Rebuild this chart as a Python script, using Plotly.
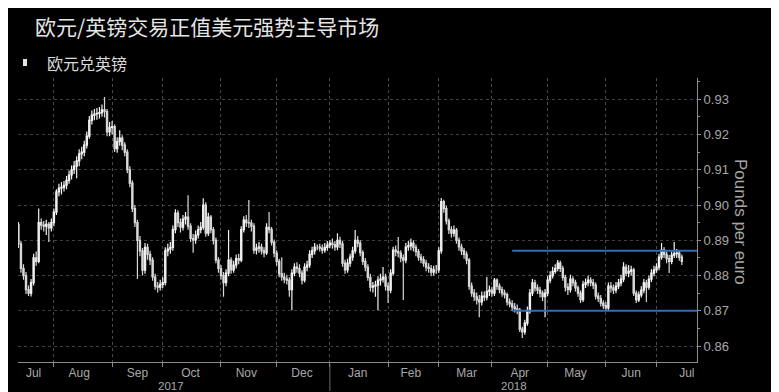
import pandas as pd
import plotly.graph_objects as go

# ---------------- data (EUR/GBP daily) ----------------
start_day = "2017-07-12"

opens = [
    0.8945, 0.8890, 0.8820,
    0.8800, 0.8760, 0.8750, 0.8780, 0.8850,
    0.8840, 0.8950, 0.8943, 0.8940, 0.8945,
    0.8935, 0.8950, 0.8980, 0.9037, 0.9048,
    0.9050, 0.9056, 0.9070, 0.9085, 0.9100,
    0.9110, 0.9125, 0.9145, 0.9150, 0.9170,
    0.9195, 0.9240, 0.9255, 0.9258, 0.9260,
    0.9262, 0.9270, 0.9265, 0.9207, 0.9220,
    0.9222, 0.9160, 0.9180, 0.9190, 0.9170,
    0.9150, 0.9100, 0.9062, 0.8990, 0.8950,
    0.8900, 0.8870, 0.8815, 0.8880, 0.8860,
    0.8844, 0.8796, 0.8770, 0.8767, 0.8775,
    0.8780, 0.8870, 0.8875, 0.8880, 0.8930,
    0.8977, 0.8950, 0.8937, 0.8960, 0.8966,
    0.8940, 0.8905, 0.8901, 0.8915, 0.8930,
    0.8937, 0.9000, 0.8920, 0.8966, 0.8930,
    0.8900, 0.8844, 0.8820, 0.8800, 0.8780,
    0.8807, 0.8844, 0.8816, 0.8830, 0.8848,
    0.8844, 0.8930, 0.8957, 0.8950, 0.8949,
    0.8940, 0.8872, 0.8878, 0.8881, 0.8870,
    0.8864, 0.8937, 0.8930, 0.8895, 0.8864,
    0.8840, 0.8805, 0.8796, 0.8790, 0.8787,
    0.8760, 0.8807, 0.8824, 0.8820, 0.8807,
    0.8787, 0.8824, 0.8830, 0.8860, 0.8870,
    0.8881, 0.8881, 0.8878, 0.8872, 0.8880,
    0.8886, 0.8892, 0.8888, 0.8881, 0.8900,
    0.8890, 0.8835, 0.8816, 0.8835, 0.8852,
    0.8870, 0.8900, 0.8892, 0.8865, 0.8840,
    0.8824, 0.8795, 0.8767, 0.8770, 0.8773,
    0.8787, 0.8790, 0.8796, 0.8770, 0.8759,
    0.8807, 0.8872, 0.8868, 0.8864, 0.8850,
    0.8844, 0.8881, 0.8885, 0.8892, 0.8880,
    0.8868, 0.8852, 0.8845, 0.8835, 0.8824,
    0.8820, 0.8810, 0.8816, 0.8816, 0.8870,
    0.9010, 0.8990, 0.8955, 0.8930, 0.8920,
    0.8929, 0.8900, 0.8881, 0.8870, 0.8860,
    0.8844, 0.8770, 0.8750, 0.8740, 0.8731,
    0.8725, 0.8742, 0.8739, 0.8755, 0.8759,
    0.8750, 0.8787, 0.8770, 0.8760, 0.8750,
    0.8746, 0.8725, 0.8720, 0.8711, 0.8706,
    0.8702, 0.8648, 0.8640, 0.8665, 0.8700,
    0.8750, 0.8779, 0.8765, 0.8759, 0.8750,
    0.8740, 0.8750, 0.8787, 0.8800, 0.8812,
    0.8820, 0.8835, 0.8820, 0.8795, 0.8767,
    0.8760, 0.8790, 0.8780, 0.8765, 0.8750,
    0.8732, 0.8775, 0.8780, 0.8787, 0.8780,
    0.8773, 0.8742, 0.8735, 0.8722, 0.8715,
    0.8708, 0.8770, 0.8765, 0.8759, 0.8770,
    0.8779, 0.8790, 0.8824, 0.8807, 0.8812,
    0.8816, 0.8750, 0.8731, 0.8745, 0.8759,
    0.8779, 0.8767, 0.8790, 0.8807, 0.8816,
    0.8824, 0.8852, 0.8872, 0.8860, 0.8848,
    0.8840, 0.8858, 0.8862, 0.8864, 0.8852,
]

highs = [
    0.8952, 0.8898, 0.8832,
    0.8810, 0.8772, 0.8790, 0.8862, 0.8868,
    0.8990, 0.8962, 0.8955, 0.8958, 0.8952,
    0.8962, 0.8990, 0.9045, 0.9060, 0.9065,
    0.9068, 0.9082, 0.9098, 0.9112, 0.9125,
    0.9138, 0.9158, 0.9165, 0.9182, 0.9208,
    0.9252, 0.9268, 0.9272, 0.9275, 0.9278,
    0.9285, 0.9306, 0.9272, 0.9235, 0.9238,
    0.9228, 0.9192, 0.9212, 0.9198, 0.9178,
    0.9158, 0.9110, 0.9070, 0.9000, 0.8958,
    0.8912, 0.8878, 0.8892, 0.8890, 0.8870,
    0.8852, 0.8805, 0.8782, 0.8788, 0.8795,
    0.8880, 0.8890, 0.8895, 0.8942, 0.8988,
    0.8985, 0.8962, 0.8972, 0.8980, 0.9028,
    0.8948, 0.8918, 0.8928, 0.8942, 0.8952,
    0.9019, 0.9008, 0.8978, 0.8972, 0.8938,
    0.8908, 0.8852, 0.8830, 0.8810, 0.8818,
    0.8929, 0.8852, 0.8842, 0.8860, 0.8862,
    0.8940, 0.8968, 0.8972, 0.9014, 0.8958,
    0.8948, 0.8890, 0.8895, 0.8890, 0.8880,
    0.8948, 0.8980, 0.8938, 0.8902, 0.8872,
    0.8848, 0.8852, 0.8808, 0.8802, 0.8795,
    0.8818, 0.8835, 0.8838, 0.8832, 0.8815,
    0.8835, 0.8842, 0.8872, 0.8882, 0.8892,
    0.8888, 0.8890, 0.8888, 0.8892, 0.8898,
    0.8900, 0.8905, 0.8898, 0.8920, 0.8910,
    0.8898, 0.8845, 0.8848, 0.8862, 0.8882,
    0.8929, 0.8912, 0.8900, 0.8872, 0.8850,
    0.8832, 0.8805, 0.8782, 0.8785, 0.8798,
    0.8805, 0.8824, 0.8805, 0.8780, 0.8818,
    0.8882, 0.8885, 0.8909, 0.8872, 0.8860,
    0.8892, 0.8898, 0.8905, 0.8900, 0.8888,
    0.8875, 0.8862, 0.8855, 0.8845, 0.8835,
    0.8830, 0.8828, 0.8830, 0.8880, 0.9020,
    0.9015, 0.8998, 0.8962, 0.8940, 0.8942,
    0.8935, 0.8908, 0.8890, 0.8878, 0.8868,
    0.8850, 0.8780, 0.8762, 0.8752, 0.8745,
    0.8755, 0.8755, 0.8796, 0.8772, 0.8768,
    0.8793, 0.8792, 0.8778, 0.8768, 0.8760,
    0.8752, 0.8735, 0.8730, 0.8722, 0.8718,
    0.8708, 0.8655, 0.8675, 0.8712, 0.8762,
    0.8790, 0.8788, 0.8775, 0.8768, 0.8758,
    0.8762, 0.8798, 0.8812, 0.8825, 0.8832,
    0.8844, 0.8842, 0.8828, 0.8802, 0.8778,
    0.8802, 0.8798, 0.8788, 0.8772, 0.8758,
    0.8785, 0.8792, 0.8800, 0.8795, 0.8790,
    0.8780, 0.8752, 0.8745, 0.8730, 0.8725,
    0.8780, 0.8782, 0.8775, 0.8782, 0.8790,
    0.8802, 0.8838, 0.8832, 0.8830, 0.8828,
    0.8822, 0.8758, 0.8755, 0.8770, 0.8790,
    0.8788, 0.8800, 0.8818, 0.8828, 0.8835,
    0.8862, 0.8892, 0.8880, 0.8868, 0.8858,
    0.8868, 0.8895, 0.8875, 0.8872, 0.8860,
]

lows = [
    0.8878, 0.8808, 0.8788,
    0.8748, 0.8742, 0.8741, 0.8772, 0.8828,
    0.8835, 0.8930, 0.8925, 0.8915, 0.8895,
    0.8925, 0.8940, 0.8972, 0.9025, 0.9030,
    0.9038, 0.9045, 0.9060, 0.9072, 0.9088,
    0.9076, 0.9110, 0.9130, 0.9138, 0.9160,
    0.9188, 0.9228, 0.9240, 0.9242, 0.9245,
    0.9250, 0.9248, 0.9195, 0.9195, 0.9200,
    0.9150, 0.9148, 0.9168, 0.9155, 0.9138,
    0.9090, 0.9050, 0.8980, 0.8938, 0.8790,
    0.8855, 0.8800, 0.8805, 0.8845, 0.8830,
    0.8785, 0.8760, 0.8752, 0.8758, 0.8765,
    0.8772, 0.8855, 0.8862, 0.8870, 0.8920,
    0.8938, 0.8922, 0.8928, 0.8945, 0.8930,
    0.8895, 0.8865, 0.8890, 0.8905, 0.8920,
    0.8930, 0.8910, 0.8912, 0.8920, 0.8888,
    0.8835, 0.8808, 0.8788, 0.8740, 0.8770,
    0.8798, 0.8805, 0.8808, 0.8820, 0.8832,
    0.8838, 0.8922, 0.8938, 0.8935, 0.8925,
    0.8862, 0.8860, 0.8865, 0.8860, 0.8852,
    0.8858, 0.8920, 0.8885, 0.8852, 0.8828,
    0.8795, 0.8785, 0.8778, 0.8775, 0.8740,
    0.8702, 0.8798, 0.8808, 0.8795, 0.8775,
    0.8780, 0.8812, 0.8822, 0.8850, 0.8860,
    0.8872, 0.8868, 0.8862, 0.8865, 0.8870,
    0.8878, 0.8876, 0.8870, 0.8872, 0.8878,
    0.8825, 0.8805, 0.8808, 0.8825, 0.8842,
    0.8862, 0.8880, 0.8855, 0.8830, 0.8812,
    0.8785, 0.8755, 0.8752, 0.8740, 0.8702,
    0.8772, 0.8780, 0.8758, 0.8722, 0.8750,
    0.8800, 0.8855, 0.8852, 0.8838, 0.8731,
    0.8835, 0.8870, 0.8872, 0.8868, 0.8855,
    0.8842, 0.8835, 0.8825, 0.8812, 0.8808,
    0.8798, 0.8800, 0.8805, 0.8808, 0.8862,
    0.8978, 0.8945, 0.8918, 0.8908, 0.8910,
    0.8890, 0.8870, 0.8858, 0.8848, 0.8832,
    0.8760, 0.8740, 0.8728, 0.8718, 0.8682,
    0.8715, 0.8728, 0.8730, 0.8742, 0.8740,
    0.8742, 0.8760, 0.8750, 0.8740, 0.8735,
    0.8715, 0.8710, 0.8700, 0.8695, 0.8690,
    0.8640, 0.8623, 0.8632, 0.8658, 0.8692,
    0.8742, 0.8755, 0.8748, 0.8738, 0.8728,
    0.8682, 0.8742, 0.8778, 0.8792, 0.8805,
    0.8812, 0.8810, 0.8785, 0.8755, 0.8745,
    0.8752, 0.8770, 0.8755, 0.8740, 0.8722,
    0.8725, 0.8765, 0.8770, 0.8770, 0.8762,
    0.8732, 0.8725, 0.8712, 0.8705, 0.8700,
    0.8702, 0.8752, 0.8748, 0.8750, 0.8762,
    0.8770, 0.8782, 0.8798, 0.8795, 0.8800,
    0.8742, 0.8722, 0.8725, 0.8738, 0.8750,
    0.8725, 0.8760, 0.8782, 0.8798, 0.8808,
    0.8815, 0.8845, 0.8850, 0.8835, 0.8807,
    0.8832, 0.8850, 0.8850, 0.8842, 0.8830,
]

closes = [
    0.8890, 0.8820, 0.8800,
    0.8760, 0.8750, 0.8780, 0.8850, 0.8840,
    0.8950, 0.8943, 0.8940, 0.8945, 0.8935,
    0.8950, 0.8980, 0.9037, 0.9048, 0.9050,
    0.9056, 0.9070, 0.9085, 0.9100, 0.9110,
    0.9125, 0.9145, 0.9150, 0.9170, 0.9195,
    0.9240, 0.9255, 0.9258, 0.9260, 0.9262,
    0.9270, 0.9265, 0.9207, 0.9220, 0.9222,
    0.9160, 0.9180, 0.9190, 0.9170, 0.9150,
    0.9100, 0.9062, 0.8990, 0.8950, 0.8900,
    0.8870, 0.8815, 0.8880, 0.8860, 0.8844,
    0.8796, 0.8770, 0.8767, 0.8775, 0.8780,
    0.8870, 0.8875, 0.8880, 0.8930, 0.8977,
    0.8950, 0.8937, 0.8960, 0.8966, 0.8940,
    0.8905, 0.8901, 0.8915, 0.8930, 0.8937,
    0.9000, 0.8920, 0.8966, 0.8930, 0.8900,
    0.8844, 0.8820, 0.8800, 0.8780, 0.8807,
    0.8844, 0.8816, 0.8830, 0.8848, 0.8844,
    0.8930, 0.8957, 0.8950, 0.8949, 0.8940,
    0.8872, 0.8878, 0.8881, 0.8870, 0.8864,
    0.8937, 0.8930, 0.8895, 0.8864, 0.8840,
    0.8805, 0.8796, 0.8790, 0.8787, 0.8760,
    0.8807, 0.8824, 0.8820, 0.8807, 0.8787,
    0.8824, 0.8830, 0.8860, 0.8870, 0.8881,
    0.8881, 0.8878, 0.8872, 0.8880, 0.8886,
    0.8892, 0.8888, 0.8881, 0.8900, 0.8890,
    0.8835, 0.8816, 0.8835, 0.8852, 0.8870,
    0.8900, 0.8892, 0.8865, 0.8840, 0.8824,
    0.8795, 0.8767, 0.8770, 0.8773, 0.8787,
    0.8790, 0.8796, 0.8770, 0.8759, 0.8807,
    0.8872, 0.8868, 0.8864, 0.8850, 0.8844,
    0.8881, 0.8885, 0.8892, 0.8880, 0.8868,
    0.8852, 0.8845, 0.8835, 0.8824, 0.8820,
    0.8810, 0.8816, 0.8816, 0.8870, 0.9010,
    0.8990, 0.8955, 0.8930, 0.8920, 0.8929,
    0.8900, 0.8881, 0.8870, 0.8860, 0.8844,
    0.8770, 0.8750, 0.8740, 0.8731, 0.8725,
    0.8742, 0.8739, 0.8755, 0.8759, 0.8750,
    0.8787, 0.8770, 0.8760, 0.8750, 0.8746,
    0.8725, 0.8720, 0.8711, 0.8706, 0.8702,
    0.8648, 0.8640, 0.8665, 0.8700, 0.8750,
    0.8779, 0.8765, 0.8759, 0.8750, 0.8740,
    0.8750, 0.8787, 0.8800, 0.8812, 0.8820,
    0.8835, 0.8820, 0.8795, 0.8767, 0.8760,
    0.8790, 0.8780, 0.8765, 0.8750, 0.8732,
    0.8775, 0.8780, 0.8787, 0.8780, 0.8773,
    0.8742, 0.8735, 0.8722, 0.8715, 0.8708,
    0.8770, 0.8765, 0.8759, 0.8770, 0.8779,
    0.8790, 0.8824, 0.8807, 0.8812, 0.8816,
    0.8750, 0.8731, 0.8745, 0.8759, 0.8779,
    0.8767, 0.8790, 0.8807, 0.8816, 0.8824,
    0.8852, 0.8872, 0.8860, 0.8848, 0.8840,
    0.8858, 0.8862, 0.8864, 0.8852, 0.8840,
]

# range-trading band (blue lines)
band_dates = ["2018-04-11", "2018-07-23"]
band_upper = [0.887, 0.887]
band_lower = [0.870, 0.870]

# axis labels
month_tick_dates = ["2017-07-20", "2017-08-15", "2017-09-15", "2017-10-16",
                    "2017-11-15", "2017-12-15", "2018-01-16", "2018-02-14",
                    "2018-03-16", "2018-04-16", "2018-05-16", "2018-06-15",
                    "2018-07-17"]
month_tick_labels = ["Jul", "Aug", "Sep", "Oct", "Nov", "Dec", "Jan", "Feb",
                     "Mar", "Apr", "May", "Jun", "Jul"]
year_labels = ["2017", "2018"]

title_text = "欧元/英镑交易正值美元强势主导市场"
series_name = "欧元兑英镑"
y_title = "Pounds per euro"

# ---------------- figure ----------------
dates = pd.bdate_range(start_day, periods=len(closes))

# page body has an 8px default margin: size the figure so it fills the window
OFF = 8
W, H = 779 - OFF, 392 - OFF
ML, MR, MT, MB = 18 - OFF, 82, 78 - OFF, 30
PW, PH = W - ML - MR, H - MT - MB   # 679 x 284


def px_x(px):   # window pixel -> paper x
    return (px - 18) / PW


def px_y(py):   # window pixel -> paper y
    return (362 - py) / PH


GREY = "#a8a8a8"
TICKFONT = dict(family="Liberation Sans, Arial, sans-serif", size=12, color=GREY)

fig = go.Figure()
fig.add_trace(go.Candlestick(
    x=dates, open=opens, high=highs, low=lows, close=closes,
    increasing=dict(line=dict(color="#f2f2f2", width=1.2), fillcolor="#b0b0b0"),
    decreasing=dict(line=dict(color="#d8d8d8", width=1.2), fillcolor="#ececec"),
    whiskerwidth=0, showlegend=False, hoverinfo="skip",
))
for lv in (band_upper, band_lower):
    fig.add_trace(go.Scatter(
        x=band_dates, y=lv, mode="lines",
        line=dict(color="#2f6fba", width=2),
        showlegend=False, hoverinfo="skip",
    ))

fig.update_layout(
    width=W, height=H,
    paper_bgcolor="#000000", plot_bgcolor="#000000",
    margin=dict(l=ML, r=MR, t=MT, b=MB),
    showlegend=False,
    title=dict(text=title_text, x=(35 - OFF) / W, xanchor="left",
               y=1 - (28 - OFF) / H, yanchor="middle",
               font=dict(family="Noto Sans CJK SC", size=21, color="#e6e6e6")),
)

fig.update_xaxes(
    type="date",
    range=["2017-07-11 20:00", "2018-07-23"],
    rangebreaks=[dict(bounds=["sat", "mon"])],
    rangeslider=dict(visible=False),
    tickmode="array", tickvals=month_tick_dates, ticktext=month_tick_labels,
    ticks="", showgrid=False,
    tickfont=TICKFONT,
    showline=True, linecolor="#8c8c8c", linewidth=1,
    zeroline=False,
    minor=dict(dtick="M1", tick0="2017-07-01", showgrid=True,
               gridcolor="#4a4a4a", griddash="dot", gridwidth=1,
               ticks="outside", ticklen=4, tickcolor="#8c8c8c"),
)
fig.update_yaxes(
    side="right",
    range=[0.8555, 0.936],
    tick0=0.86, dtick=0.01, tickformat=".2f",
    ticks="outside", ticklen=3, tickcolor="#8c8c8c",
    tickfont=dict(family="Liberation Sans, Arial, sans-serif", size=13, color=GREY),
    showgrid=True, gridcolor="#3e3e3e", griddash="dot", gridwidth=1,
    showline=True, linecolor="#8c8c8c", linewidth=1,
    zeroline=False,
    minor=dict(dtick=0.005, ticks="outside", ticklen=2, tickcolor="#8c8c8c",
               showgrid=False),
)

# legend marker + label
fig.add_shape(type="rect", xref="paper", yref="paper",
              x0=px_x(23), x1=px_x(27), y0=px_y(66), y1=px_y(59),
              fillcolor="#e6e6e6", line=dict(width=0))
fig.add_annotation(text=series_name, xref="paper", yref="paper",
                   x=px_x(45), y=px_y(63),
                   xanchor="left", yanchor="middle", showarrow=False,
                   font=dict(family="Noto Sans CJK SC", size=16, color="#d9d9d9"))

# axis title (reads top to bottom)
fig.add_annotation(text=y_title, xref="paper", yref="paper",
                   x=px_x(741), y=px_y(222),
                   xanchor="center", yanchor="middle", textangle=90,
                   showarrow=False,
                   font=dict(family="Liberation Sans, Arial, sans-serif",
                             size=17, color=GREY))

# year row
for lab, px in zip(year_labels, (171, 514)):
    fig.add_annotation(text=lab, xref="paper", yref="paper",
                       x=px_x(px), y=px_y(386),
                       xanchor="center", yanchor="middle", showarrow=False,
                       font=dict(family="Liberation Sans, Arial, sans-serif",
                                 size=11.5, color=GREY))
fig.add_shape(type="line", xref="x", yref="paper",
              x0="2018-01-01", x1="2018-01-01",
              y0=px_y(364), y1=px_y(391), line=dict(color="#6a6a6a", width=1))

fig.write_html("out.html")
